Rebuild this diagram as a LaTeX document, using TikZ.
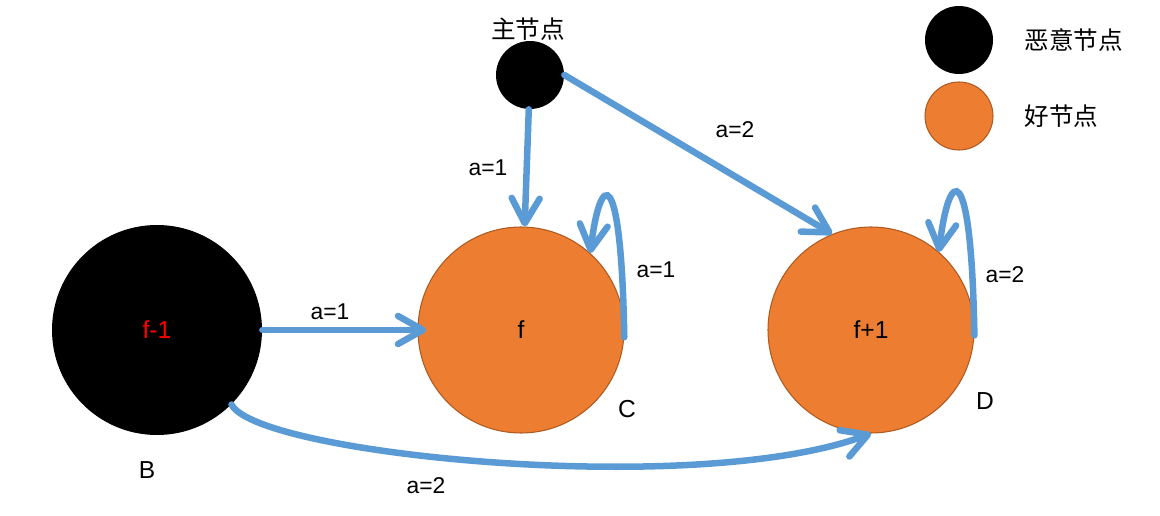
\documentclass[tikz,border=0pt]{standalone}
\usepackage{fontspec}
\setmainfont{Liberation Sans}
\newfontfamily\cjk{Noto Sans CJK SC}
\usetikzlibrary{positioning,arrows.meta}
\definecolor{edge}{RGB}{91,155,213}
\definecolor{good}{RGB}{237,125,49}
\definecolor{goodline}{RGB}{174,90,33}
\definecolor{fault}{RGB}{255,0,0}

\begin{document}
\begin{tikzpicture}[
    bad/.style={circle, fill=black, inner sep=0pt},
    honest/.style={circle, fill=good, draw=goodline, line width=0.6pt, inner sep=0pt},
    link/.style={edge, line width=3.7pt, line cap=round, -{Straight Barb[length=5mm, width=5.6mm, round]}},
    lbl/.style={font=\fontsize{13}{15}\selectfont},
    big/.style={font=\fontsize{14}{16}\selectfont},
    cjklbl/.style={font=\cjk\fontsize{14}{16}\selectfont}
  ]
  \useasboundingbox (0,0) rectangle (23.2,10.3);

  % Master node
  \node[bad, minimum size=1.36cm] (main) at (10.6,8.8) {};
  \node[cjklbl] (mainname) at (10.56,9.72) {主节点};

  % Legend
  \node[bad, minimum size=1.36cm] (legbad) at (19.18,9.5) {};
  \node[honest, minimum size=1.36cm] (leggood) at (19.18,7.98) {};
  \node[cjklbl, right=0.5cm of legbad] (legbadtext) {恶意节点};
  \node[cjklbl, right=0.5cm of leggood] (leggoodtext) {好节点};

  % Replicas
  \node[bad, minimum size=4.2cm, big, text=fault] (B) at (3.14,3.7) {f-1};
  \node[honest, minimum size=4.12cm, big] (f) at (10.42,3.7) {f};
  \node[honest, minimum size=4.12cm, big] (fp) at (17.42,3.7) {f+1};
  \node[big] (Bname) at (2.94,0.9) {B};
  \node[big] (Cname) at (12.54,2.12) {C};
  \node[big] (Dname) at (19.7,2.28) {D};

  % Votes
  \draw[link] (main) -- (f);
  \draw[link] (main.east) -- (fp.112);
  \draw[link, shorten >=-5pt] (B) -- (f);
  \draw[link] (B.-45) .. controls +(0.5,-1.0) and +(-3.5,-1.3) .. (fp.south);
  \draw[link] (f.-4) .. controls +(-0.06,3.5) and +(0.2,1.65) .. (f.48);
  \draw[link] (fp.-3) .. controls +(-0.06,3.6) and +(0.2,1.7) .. (fp.49);

  % Vote labels
  \node[lbl] (amainf) at (9.76,6.94) {a=1};
  \node[lbl] (amainfp) at (14.7,7.7) {a=2};
  \node[lbl] (aBf) at (6.6,4.06) {a=1};
  \node[lbl] (aBfp) at (8.52,0.58) {a=2};
  \node[lbl] (aff) at (13.12,4.9) {a=1};
  \node[lbl] (afpfp) at (20.1,4.8) {a=2};
\end{tikzpicture}
\end{document}
